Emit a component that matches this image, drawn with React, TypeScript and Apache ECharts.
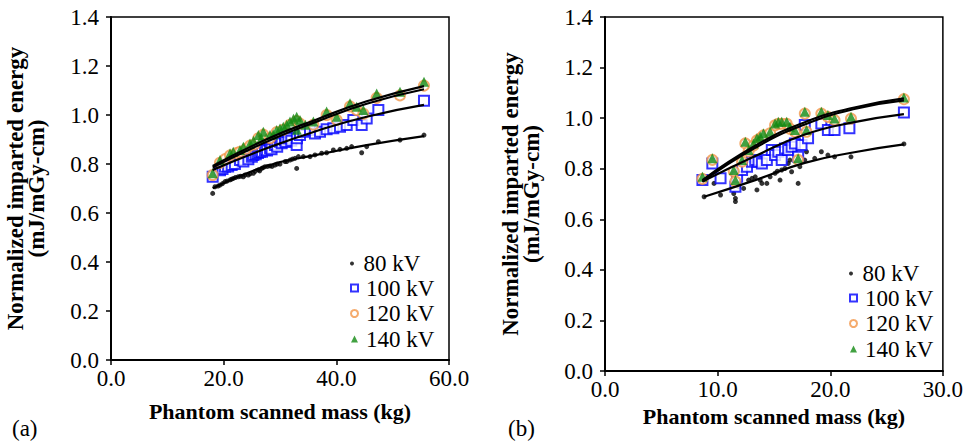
import React, { useEffect, useRef } from "react";
import * as echarts from "echarts";

// ---------- Panel (a) data: [phantom scanned mass (kg), normalized imparted energy] ----------
const a80: number[][] = [
  [18.05, 0.68], [18.46, 0.707], [19.0, 0.71], [19.35, 0.714], [19.8, 0.72], [20.24, 0.728], [20.6, 0.73],
  [21.13, 0.735], [21.4, 0.738], [21.72, 0.741], [22.1, 0.745], [22.6, 0.748], [23.0, 0.75], [23.49, 0.748],
  [23.8, 0.755], [24.38, 0.755], [24.7, 0.76], [25.27, 0.762], [25.6, 0.77], [26.16, 0.776], [26.4, 0.772],
  [26.75, 0.782], [27.0, 0.785], [27.34, 0.789], [27.8, 0.79], [28.23, 0.792], [28.6, 0.79], [29.11, 0.796],
  [29.5, 0.80], [30.0, 0.80], [30.89, 0.81], [31.2, 0.81], [31.78, 0.816], [32.2, 0.82], [32.66, 0.823],
  [32.96, 0.782], [33.26, 0.83], [34.14, 0.83], [35.33, 0.83], [36.21, 0.837], [37.4, 0.844], [38.28, 0.846],
  [39.47, 0.857], [40.65, 0.86], [41.84, 0.864], [42.72, 0.871], [44.5, 0.846], [45.39, 0.871], [47.46, 0.891],
  [51.3, 0.898], [55.56, 0.918],
];
const a100: number[][] = [
  [18.05, 0.748], [19.35, 0.775], [19.8, 0.78], [20.24, 0.789], [20.8, 0.79], [21.42, 0.796], [22.0, 0.80],
  [22.9, 0.816], [23.5, 0.81], [24.38, 0.819], [25.0, 0.83], [25.27, 0.837], [25.7, 0.84], [26.1, 0.845],
  [26.45, 0.85], [26.8, 0.85], [27.34, 0.857], [27.7, 0.855], [28.23, 0.864], [28.5, 0.86], [29.11, 0.878],
  [29.5, 0.87], [30.0, 0.891], [30.3, 0.885], [30.89, 0.898], [31.0, 0.89], [31.48, 0.905], [32.0, 0.895],
  [32.96, 0.878], [33.0, 0.905], [33.55, 0.918], [34.14, 0.932], [35.33, 0.939], [36.21, 0.925], [37.1, 0.932],
  [38.28, 0.942], [39.47, 0.946], [40.65, 0.952], [41.84, 0.959], [43.02, 0.98], [44.5, 0.959], [45.39, 0.986],
  [47.46, 1.02], [55.56, 1.058],
];
const a120: number[][] = [
  [18.05, 0.755], [19.35, 0.805], [20.24, 0.82], [21.13, 0.835], [22.3, 0.845], [22.9, 0.85], [24.0, 0.862],
  [24.68, 0.875], [25.5, 0.88], [26.16, 0.905], [27.04, 0.92], [28.23, 0.905], [29.41, 0.93], [30.59, 0.94],
  [31.78, 0.96], [32.96, 0.975], [33.55, 0.965], [35.92, 0.96], [38.28, 1.0], [40.06, 0.98], [42.43, 1.035],
  [43.61, 1.02], [44.8, 1.005], [47.16, 1.07], [51.3, 1.08], [55.56, 1.12],
];
const a140: number[][] = [
  [18.05, 0.762], [19.35, 0.816], [21.13, 0.844], [21.7, 0.85], [22.9, 0.857], [23.5, 0.87], [24.68, 0.884],
  [25.3, 0.895], [26.16, 0.918], [26.7, 0.905], [27.04, 0.932], [28.23, 0.918], [28.8, 0.92], [29.41, 0.939],
  [30.0, 0.945], [30.59, 0.952], [31.2, 0.96], [31.78, 0.973], [32.4, 0.985], [32.96, 0.993], [33.0, 0.94],
  [33.55, 0.98], [34.5, 0.96], [35.92, 0.973], [38.28, 1.014], [40.06, 0.993], [42.43, 1.048], [43.61, 1.034],
  [44.8, 1.02], [47.16, 1.088], [51.3, 1.095], [55.56, 1.136],
];
// fitted curves
const fitA80: number[][] = [[18.05, 0.701], [27.63, 0.792], [36.51, 0.837], [45.39, 0.877], [55.56, 0.914]];
const fitA100: number[][] = [[18.05, 0.776], [27.63, 0.864], [36.51, 0.935], [45.39, 0.993], [55.56, 1.041]];
const fitA120: number[][] = [[18.05, 0.786], [27.63, 0.891], [36.51, 0.973], [45.39, 1.046], [55.56, 1.105]];
const fitA140: number[][] = [[18.05, 0.792], [27.63, 0.901], [36.51, 0.982], [45.39, 1.056], [55.56, 1.118]];

// ---------- Panel (b) data ----------
const b80: number[][] = [
  [8.8, 0.689], [9.68, 0.742], [10.26, 0.696], [11.43, 0.702], [11.58, 0.683], [11.58, 0.67], [11.87, 0.729],
  [12.31, 0.722], [12.75, 0.755], [13.05, 0.762], [13.34, 0.768], [13.49, 0.716], [13.78, 0.755], [13.93, 0.742],
  [14.37, 0.742], [14.66, 0.768], [15.1, 0.782], [15.3, 0.79], [15.54, 0.755], [15.69, 0.795], [15.98, 0.801],
  [16.27, 0.821], [16.42, 0.834], [16.57, 0.788], [17.15, 0.742], [17.3, 0.808], [17.74, 0.834], [17.89, 0.867],
  [18.62, 0.841], [19.21, 0.867], [19.79, 0.854], [20.38, 0.847], [21.84, 0.847], [26.54, 0.898],
];
const b100: number[][] = [
  [8.65, 0.755], [9.53, 0.821], [10.26, 0.762], [11.58, 0.729], [11.73, 0.768], [12.17, 0.795], [12.61, 0.808],
  [13.05, 0.828], [13.34, 0.834], [13.63, 0.828], [13.93, 0.821], [14.37, 0.834], [14.81, 0.874], [15.1, 0.854],
  [15.39, 0.867], [15.69, 0.834], [15.98, 0.88], [16.27, 0.874], [16.57, 0.887], [16.86, 0.9], [17.15, 0.847],
  [17.45, 0.894], [17.74, 0.973], [18.03, 0.92], [19.21, 0.979], [19.79, 0.953], [20.38, 0.953], [21.7, 0.96],
  [26.54, 1.022],
];
const b120: number[][] = [
  [8.65, 0.76], [9.53, 0.835], [11.43, 0.79], [11.58, 0.75], [12.17, 0.828], [12.46, 0.9], [12.75, 0.868],
  [13.19, 0.892], [13.49, 0.912], [13.78, 0.92], [14.07, 0.932], [14.66, 0.94], [15.1, 0.972], [15.39, 0.978],
  [15.69, 0.978], [16.13, 0.978], [16.42, 0.958], [16.86, 0.946], [17.15, 0.835], [17.74, 1.018], [17.89, 0.946],
  [19.21, 1.018], [19.79, 1.005], [20.38, 0.992], [21.84, 0.998], [26.54, 1.075],
];
const b140: number[][] = [
  [8.65, 0.768], [9.53, 0.841], [11.43, 0.795], [11.58, 0.755], [12.17, 0.834], [12.46, 0.907], [12.75, 0.874],
  [13.19, 0.9], [13.49, 0.92], [13.78, 0.927], [14.07, 0.94], [14.66, 0.946], [15.1, 0.979], [15.39, 0.986],
  [15.69, 0.986], [16.13, 0.986], [16.42, 0.966], [16.86, 0.953], [17.15, 0.841], [17.74, 1.025], [17.89, 0.953],
  [19.21, 1.025], [19.79, 1.012], [20.38, 0.999], [21.84, 1.006], [26.54, 1.082],
];
const fitB80: number[][] = [[8.8, 0.689], [13.34, 0.755], [17.74, 0.823], [22.14, 0.865], [26.54, 0.896]];
const fitB100: number[][] = [[8.65, 0.749], [13.34, 0.85], [17.74, 0.935], [22.14, 0.984], [26.54, 1.016]];
const fitB120: number[][] = [[8.65, 0.749], [13.34, 0.883], [17.74, 0.975], [22.14, 1.036], [26.54, 1.07]];
const fitB140: number[][] = [[8.65, 0.755], [13.34, 0.891], [17.74, 0.984], [22.14, 1.042], [26.54, 1.078]];

const seriesNames = ["80 kV", "100 kV", "120 kV", "140 kV"];
const yTicks = [0, 0.2, 0.4, 0.6, 0.8, 1.0, 1.2, 1.4];
const xTicksA = [0, 20, 40, 60];
const xTicksB = [0, 10, 20, 30];

const FONT = "'Liberation Serif', 'Times New Roman', 'DejaVu Serif', serif";

export default function App() {
  const ref = useRef<HTMLDivElement>(null);
  useEffect(() => {
    if (!ref.current) return;
    const chart = echarts.init(ref.current, undefined, { renderer: "svg" });

    const xAxisBase = (gridIndex: number, ticks: number[], gap: number) => ({
      type: "value",
      gridIndex,
      min: ticks[0],
      max: ticks[ticks.length - 1],
      interval: ticks[1] - ticks[0],
      name: "Phantom scanned mass (kg)",
      nameLocation: "middle",
      nameGap: gap,
      nameTextStyle: { fontFamily: FONT, fontWeight: "bold", fontSize: 22, color: "#000" },
      axisLine: { onZero: false, lineStyle: { color: "#000", width: 2 } },
      axisTick: { inside: false, length: 5, lineStyle: { color: "#000", width: 1.5 } },
      axisLabel: {
        fontFamily: FONT, fontSize: 23, color: "#000", margin: 7,
        formatter: (v: number) => v.toFixed(1),
      },
      splitLine: { show: false },
    });
    const yAxisBase = (gridIndex: number, gap: number) => ({
      type: "value",
      gridIndex,
      min: yTicks[0],
      max: yTicks[yTicks.length - 1],
      interval: 0.2,
      name: "Normalized imparted energy\n(mJ/mGy-cm)",
      nameLocation: "middle",
      nameRotate: 90,
      nameGap: gap,
      nameTextStyle: { fontFamily: FONT, fontWeight: "bold", fontSize: 23, lineHeight: 21, color: "#000" },
      axisLine: { onZero: false, lineStyle: { color: "#000", width: 2 } },
      axisTick: { inside: false, length: 5, lineStyle: { color: "#000", width: 1.5 } },
      axisLabel: {
        fontFamily: FONT, fontSize: 23, color: "#000", margin: 12,
        formatter: (v: number) => v.toFixed(1),
      },
      splitLine: { show: false },
    });

    const scat = (name: string, data: number[][], idx: number) => {
      const style: Record<string, any> = {
        "80 kV": { symbol: "circle", symbolSize: 5, itemStyle: { color: "#000" } },
        "100 kV": { symbol: "emptyRect", symbolSize: 10, itemStyle: { color: "#0000ff", borderWidth: 2 } },
        "120 kV": { symbol: "emptyCircle", symbolSize: 10, itemStyle: { color: "#f39649", borderWidth: 2.2 } },
        "140 kV": { symbol: "triangle", symbolSize: 10, itemStyle: { color: "#118a11" } },
      }[name];
      return {
        type: "scatter", name, data, xAxisIndex: idx, yAxisIndex: idx, silent: true, z: 2, ...style,
      };
    };
    const fit = (name: string, data: number[][], idx: number) => ({
      type: "line", name, data, xAxisIndex: idx, yAxisIndex: idx, smooth: true, showSymbol: false,
      silent: true, z: 5, lineStyle: { color: "#000", width: 2.2 }, itemStyle: { color: "#000" },
    });

    const legendText = { fontFamily: FONT, fontSize: 23, color: "#000", lineHeight: 22, padding: [0, 0, 0, 3] };
    const legendBase = { orient: "vertical", padding: 0, itemGap: 2.5, selectedMode: false, textStyle: legendText };

    chart.setOption({
      animation: false,
      backgroundColor: "#fff",
      grid: [
        { left: 111, top: 17, width: 338, height: 343, show: true, borderColor: "#000", borderWidth: 1.5, backgroundColor: "transparent" },
        { left: 605, top: 17, width: 341, height: 354, show: true, borderColor: "#000", borderWidth: 1.5, backgroundColor: "transparent" },
      ],
      xAxis: [xAxisBase(0, xTicksA, 40), xAxisBase(1, xTicksB, 30)],
      yAxis: [yAxisBase(0, 64), yAxisBase(1, 63)],
      legend: [
        { ...legendBase, left: 350, top: 252, itemWidth: 7, itemHeight: 4, data: [seriesNames[0]] },
        { ...legendBase, left: 350, top: 276.5, itemWidth: 7, itemHeight: 7, data: seriesNames.slice(1) },
        { ...legendBase, left: 849, top: 262, itemWidth: 7, itemHeight: 4, data: [seriesNames[0]] },
        { ...legendBase, left: 849, top: 286.5, itemWidth: 7, itemHeight: 7, data: seriesNames.slice(1) },
      ],
      series: [
        scat("80 kV", a80, 0), scat("100 kV", a100, 0), scat("120 kV", a120, 0), scat("140 kV", a140, 0),
        fit("fit 80 kV (a)", fitA80, 0), fit("fit 100 kV (a)", fitA100, 0),
        fit("fit 120 kV (a)", fitA120, 0), fit("fit 140 kV (a)", fitA140, 0),
        scat("80 kV", b80, 1), scat("100 kV", b100, 1), scat("120 kV", b120, 1), scat("140 kV", b140, 1),
        fit("fit 80 kV (b)", fitB80, 1), fit("fit 100 kV (b)", fitB100, 1),
        fit("fit 120 kV (b)", fitB120, 1), fit("fit 140 kV (b)", fitB140, 1),
      ],
      graphic: [
        { type: "text", left: 12, top: 417, style: { text: "(a)", fontFamily: FONT, fontSize: 23, fill: "#000" } },
        { type: "text", left: 508, top: 417, style: { text: "(b)", fontFamily: FONT, fontSize: 23, fill: "#000" } },
      ],
    });
    return () => chart.dispose();
  }, []);
  return <div ref={ref} style={{ position: "fixed", left: 0, top: 0, width: 966, height: 442 }} />;
}
